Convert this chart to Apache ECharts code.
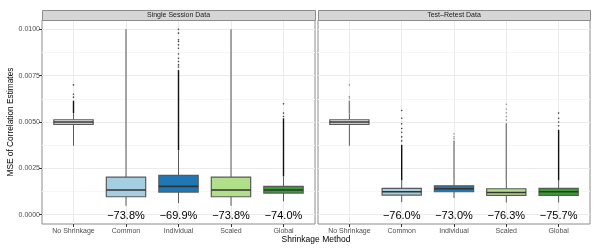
<!DOCTYPE html>
<html><head><meta charset="utf-8">
<script src="https://cdn.jsdelivr.net/npm/echarts@6/dist/echarts.min.js"></script>
<style>html,body{margin:0;padding:0;background:#fff}#c{width:600px;height:250px}</style>
</head><body><div id="c"></div>
<script>
// ---------- data ----------
const categories = ['No Shrinkage', 'Common', 'Individual', 'Scaled', 'Global'];
const panels = ['Single Session Data', 'Test\u2013Retest Data'];
const yTicks = [0, 0.0025, 0.005, 0.0075, 0.01];
const yMinor = [0.00125, 0.00375, 0.00625, 0.00875];

// Single Session: whisker low, Q1, median, Q3, whisker high
const ssLow  = [0.00372, 0.00048, 0.00063, 0.00048, 0.00072];
const ssQ1   = [0.00487, 0.00097, 0.00122, 0.00097, 0.00117];
const ssMed  = [0.00500, 0.00133, 0.00153, 0.00133, 0.00133];
const ssQ3   = [0.00512, 0.00203, 0.00212, 0.00203, 0.00153];
const ssHigh = [0.00548, 0.00360, 0.00347, 0.00360, 0.00207];
// dense runs of outliers (from whisker top up to this value)
const ssDenseTop = [0.00615, 0.0100, 0.0078, 0.0100, 0.0052];
const ssOutCat = [0, 0, 0, 2, 2, 2, 2, 2, 2, 2, 2, 2, 2, 2, 4, 4, 4];
const ssOutVal = [0.00634, 0.00650, 0.00700,
  0.0100, 0.00979, 0.00943, 0.00934, 0.00916, 0.00898, 0.00867, 0.00844, 0.00826, 0.00808, 0.00796,
  0.00598, 0.00548, 0.00530];
const ssPct = ['', '\u221273.8%', '\u221269.9%', '\u221273.8%', '\u221274.0%'];

// Test-Retest
const trLow  = [0.00372, 0.00068, 0.00090, 0.00066, 0.00066];
const trQ1   = [0.00487, 0.00106, 0.00124, 0.00104, 0.00104];
const trMed  = [0.00500, 0.00124, 0.00140, 0.00120, 0.00124];
const trQ3   = [0.00512, 0.00142, 0.00156, 0.00140, 0.00142];
const trHigh = [0.00545, 0.00185, 0.00192, 0.00187, 0.00185];
const trDenseTop = [0.00616, 0.00377, 0.00400, 0.00494, 0.00458];
const trOutCat = [0, 0, 0, 1, 1, 1, 1, 1, 1, 1, 2, 2, 2, 3, 3, 3, 3, 3, 4, 4, 4, 4];
const trOutVal = [0.00629, 0.00637, 0.00700,
  0.00562, 0.00520, 0.00490, 0.00465, 0.00445, 0.00420, 0.00398,
  0.00410, 0.00420, 0.00436,
  0.00596, 0.00570, 0.00550, 0.00530, 0.00510,
  0.00548, 0.00520, 0.00500, 0.00480];
const trPct = ['', '\u221276.0%', '\u221273.0%', '\u221276.3%', '\u221275.7%'];

// ---------- styles ----------
const fills = ['#ececec', '#A6CEE3', '#1F78B4', '#B2DF8A', '#33A02C'];
const ssOutColor = ['#111', '#808080', '#111', '#808080', '#111'];
const trOutColor = ['#808080', '#111', '#808080', '#808080', '#111'];
const FONT = 'Liberation Sans, Arial, sans-serif';

const chart = echarts.init(document.getElementById('c'), null, {renderer: 'canvas'});

const gridDefs = [{left: 42, width: 273, top: 20, bottom: 26}, {left: 318, width: 272, top: 20, bottom: 26}];

function boxData(lo, q1, md, q3, hi) {
  return categories.map((c, i) => [i, lo[i], q1[i], md[i], q3[i], hi[i]]);
}
function bandData(hi, top, colors) {
  return categories.map((c, i) => [i, hi[i], top[i], colors[i]]);
}

function renderBox(params, api) {
  const x = api.value(0);
  const lo = api.coord([x, api.value(1)]);
  const q1 = api.coord([x, api.value(2)]);
  const md = api.coord([x, api.value(3)]);
  const q3 = api.coord([x, api.value(4)]);
  const hi = api.coord([x, api.value(5)]);
  const half = api.size([0.75, 0])[0] / 2;
  const fill = fills[x];
  const stroke = '#5a5a5a';
  return {type: 'group', children: [
    {type: 'line', shape: {x1: lo[0], y1: lo[1], x2: q1[0], y2: q1[1]}, style: {stroke: stroke, lineWidth: 1}},
    {type: 'line', shape: {x1: q3[0], y1: q3[1], x2: hi[0], y2: hi[1]}, style: {stroke: stroke, lineWidth: 1}},
    {type: 'rect', shape: {x: q3[0] - half, y: q3[1], width: half * 2, height: q1[1] - q3[1]},
      style: {fill: fill, stroke: stroke, lineWidth: 1.2}},
    {type: 'line', shape: {x1: md[0] - half, y1: md[1], x2: md[0] + half, y2: md[1]}, style: {stroke: '#333', lineWidth: 1.6}}
  ]};
}
function renderBand(params, api) {
  const x = api.value(0);
  const a = api.coord([x, api.value(1)]);
  const b = api.coord([x, api.value(2)]);
  return {type: 'line', shape: {x1: a[0], y1: a[1], x2: b[0], y2: b[1]},
    style: {stroke: api.value(3), lineWidth: 1.4}};
}
function renderText(params, api) {
  const x = api.value(0);
  const p = api.coord([x, api.value(1)]);
  return {type: 'text', x: p[0], y: p[1] + 1.5,
    style: {text: api.value(2), fill: '#000', fontSize: 11, fontFamily: FONT,
      align: 'center', verticalAlign: 'middle'}};
}

const xAxes = [], yAxes = [], series = [];
[0, 1].forEach(g => {
  xAxes.push({
    type: 'value', gridIndex: g, min: -0.6, max: 4.6,
    axisLine: {show: false, onZero: false},
    axisTick: {show: true, length: 3, lineStyle: {color: '#333'}, customValues: [0, 1, 2, 3, 4]},
    axisLabel: {show: true, customValues: [0, 1, 2, 3, 4], formatter: v => categories[Math.round(v)],
      fontSize: 7, color: '#4d4d4d', margin: 4, fontFamily: FONT},
    splitLine: {show: true, lineStyle: {color: '#ebebeb', width: 1}}
  });
  yAxes.push({
    type: 'value', gridIndex: g, min: -0.0005, max: 0.0105, position: 'left',
    axisLine: {show: false, onZero: false},
    axisTick: {show: g === 0, length: 3, lineStyle: {color: '#333'}, customValues: yTicks},
    axisLabel: {show: g === 0, customValues: yTicks, formatter: v => v.toFixed(4),
      fontSize: 7, color: '#4d4d4d', margin: 2, fontFamily: FONT},
    splitLine: {show: true, lineStyle: {color: '#ebebeb', width: 1}},
    name: g === 0 ? 'MSE of Correlation Estimates' : '', nameLocation: 'middle', nameGap: 26, nameRotate: 90,
    nameTextStyle: {fontSize: 8.3, color: '#000', fontFamily: FONT}
  });
  // minor gridline axis
  yAxes.push({
    type: 'value', gridIndex: g, min: -0.0005, max: 0.0105, position: 'right',
    axisLine: {show: false, onZero: false}, axisLabel: {show: false},
    axisTick: {show: false, customValues: yMinor},
    splitLine: {show: true, lineStyle: {color: '#f6f6f6', width: 1}}
  });
});

const groups = [
  {box: boxData(ssLow, ssQ1, ssMed, ssQ3, ssHigh), band: bandData(ssHigh, ssDenseTop, ssOutColor),
   outCat: ssOutCat, outVal: ssOutVal, outColor: ssOutColor, pct: ssPct},
  {box: boxData(trLow, trQ1, trMed, trQ3, trHigh), band: bandData(trHigh, trDenseTop, trOutColor),
   outCat: trOutCat, outVal: trOutVal, outColor: trOutColor, pct: trPct}
];
groups.forEach((G, g) => {
  const yi = g * 2;
  series.push({type: 'custom', xAxisIndex: g, yAxisIndex: yi, renderItem: renderBand, data: G.band, z: 2, silent: true});
  series.push({type: 'scatter', xAxisIndex: g, yAxisIndex: yi, symbolSize: 1.6, z: 2,
    data: G.outCat.map((c, i) => ({value: [c, G.outVal[i]], itemStyle: {color: G.outColor[c]}})), silent: true});
  series.push({type: 'custom', xAxisIndex: g, yAxisIndex: yi, renderItem: renderBox, data: G.box, z: 3, silent: true});
  series.push({type: 'custom', xAxisIndex: g, yAxisIndex: yi, renderItem: renderText, z: 4, silent: true,
    data: categories.map((c, i) => [i, 0, G.pct[i]]).filter(d => d[2] !== '')});
});

const graphics = [];
gridDefs.forEach((gd, g) => {
  graphics.push({type: 'rect', left: gd.left, top: 10, shape: {width: gd.width, height: 10},
    style: {fill: '#d6d6d6', stroke: '#8c8c8c', lineWidth: 1}, z: 10});
  graphics.push({type: 'text', x: gd.left + gd.width / 2, y: 15,
    style: {text: panels[g], fontSize: 7, fill: '#1a1a1a', align: 'center', verticalAlign: 'middle',
      fontFamily: FONT}, z: 11});
});
graphics.push({type: 'text', x: 316, y: 240,
  style: {text: 'Shrinkage Method', fontSize: 8.5, fill: '#000', align: 'center', verticalAlign: 'middle',
    fontFamily: FONT}});

chart.setOption({
  animation: false,
  backgroundColor: '#fff',
  grid: gridDefs.map(gd => Object.assign({show: true, borderColor: '#8c8c8c', borderWidth: 1, backgroundColor: 'transparent', containLabel: false}, gd)),
  xAxis: xAxes,
  yAxis: yAxes,
  series: series,
  graphic: graphics
});
</script></body></html>
